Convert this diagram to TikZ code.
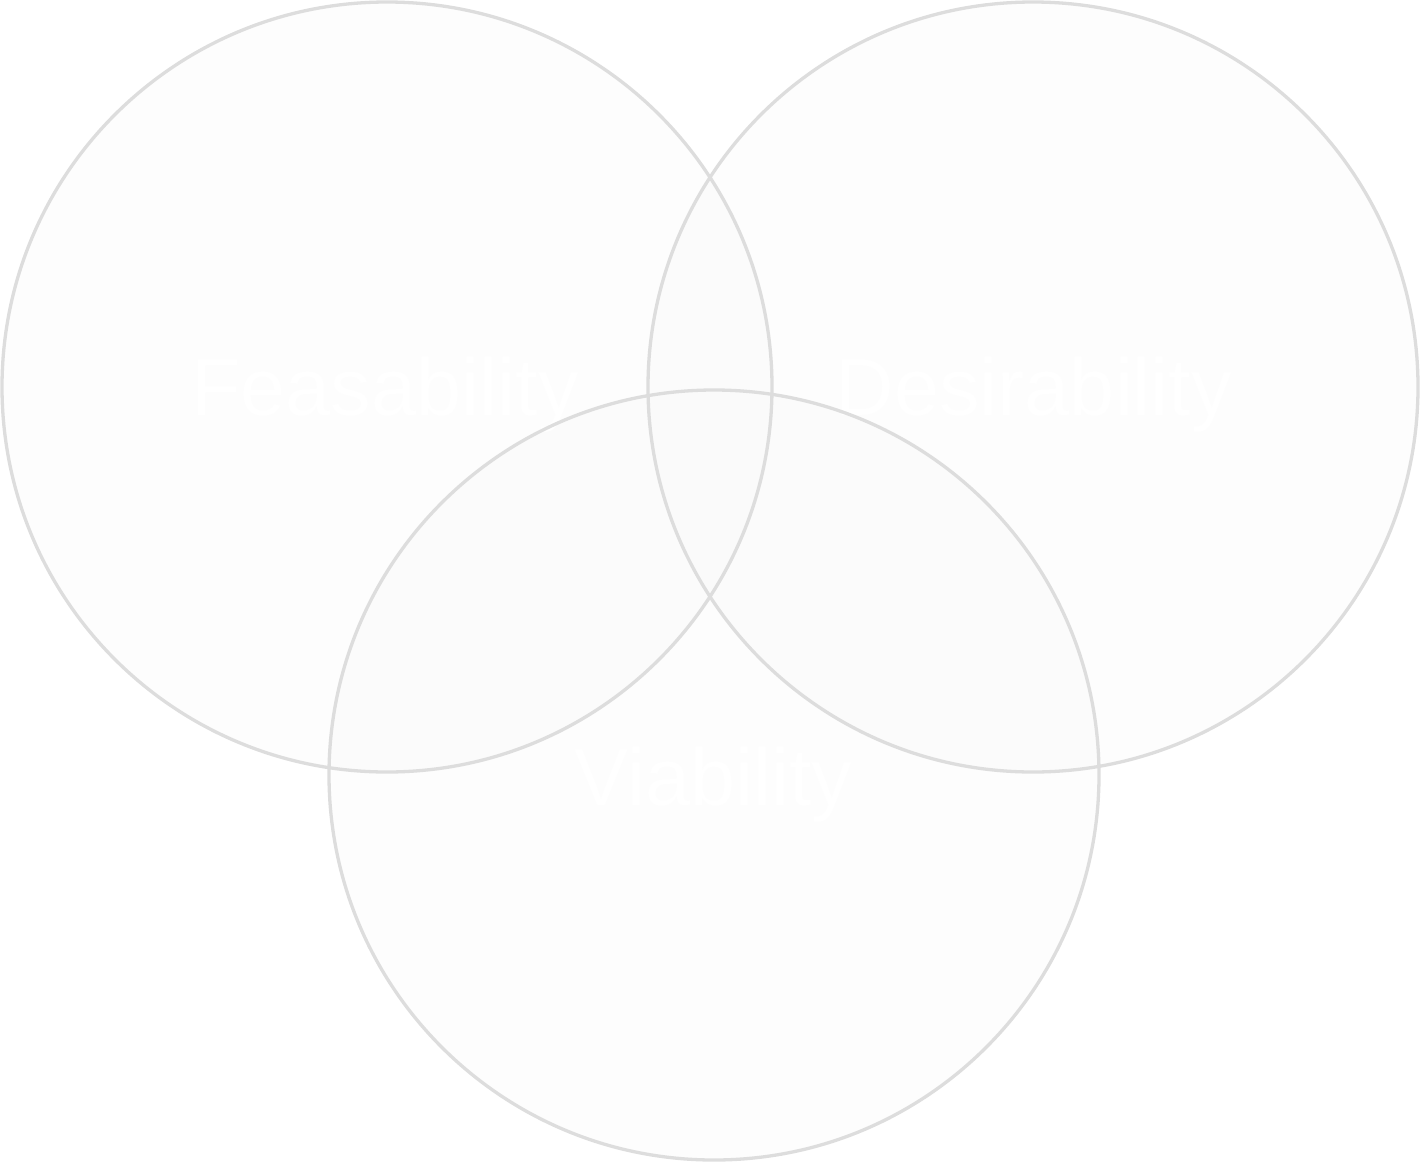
\documentclass[tikz,border=0pt]{standalone}
\usepackage{fontspec}
\setmainfont{Liberation Sans}
\definecolor{ringline}{HTML}{DDDDDD}
\definecolor{one}{HTML}{FDFDFD}
\definecolor{two}{HTML}{FBFBFB}
\definecolor{three}{HTML}{FAFAFA}
\tikzset{
  ring/.style={circle, draw=ringline, line width=3.3pt, minimum size=770pt, inner sep=0pt},
  lbl/.style={font=\fontsize{81}{90}\selectfont, text=white, anchor=base, inner sep=0pt}
}
\begin{document}
\begin{tikzpicture}[x=1pt,y=-1pt]
\useasboundingbox (0,0) rectangle (1420,1162);
\fill[one] (387,387) circle (385) (1033,387) circle (385) (714,775) circle (385);
\begin{scope}
  \clip (387,387) circle (385);
  \fill[two] (1033,387) circle (385) (714,775) circle (385);
\end{scope}
\begin{scope}
  \clip (1033,387) circle (385);
  \fill[two] (714,775) circle (385);
\end{scope}
\begin{scope}
  \clip (387,387) circle (385);
  \clip (1033,387) circle (385);
  \fill[three] (714,775) circle (385);
\end{scope}
\node[lbl] (tfeas) at (385,415) {Feasability};
\node[lbl] (tdes) at (1034,415) {Desirability};
\node[lbl] (tvia) at (713.5,805) {Viability};
\node[ring] (feas) at (387,387) {};
\node[ring] (des) at (1033,387) {};
\node[ring] (via) at (714,775) {};
\end{tikzpicture}
\end{document}
